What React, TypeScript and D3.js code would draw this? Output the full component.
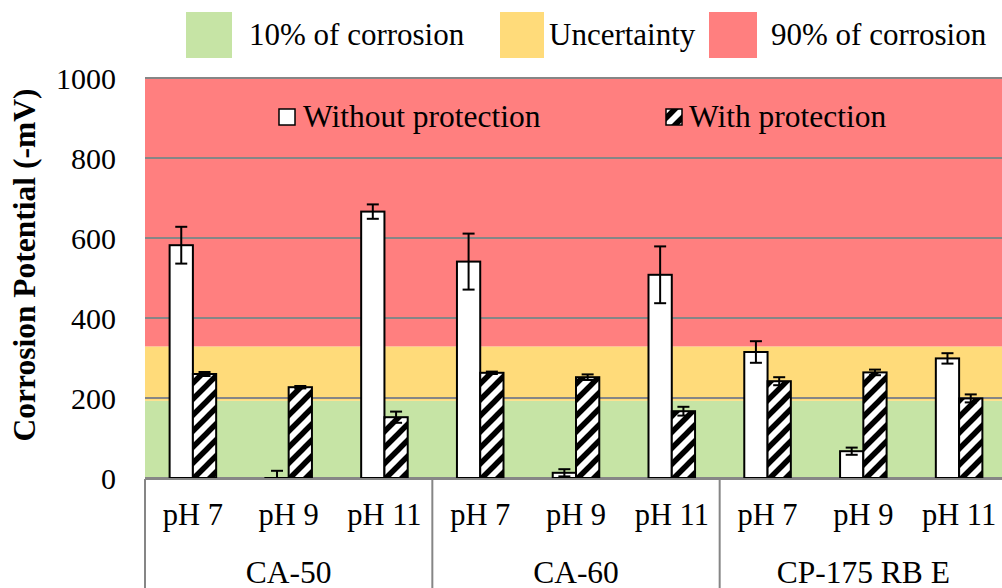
import React from "react";
import * as d3 from "d3";

const groups = ["CA-50", "CA-60", "CP-175 RB E"];
const phLabels = ["pH 7", "pH 9", "pH 11"];
const withoutValues = [582, -2, 666, 541, 13, 508, 315, 67, 299];
const withoutErrors = [46, 20, 18, 70, 9, 71, 27, 9, 13];
const withValues = [260, 227, 152, 263, 252, 167, 242, 264, 199];
const withErrors = [5, 3, 14, 3, 7, 11, 10, 7, 10];
const zoneLabels = ["10% of corrosion", "Uncertainty", "90% of corrosion"];
const zoneLower = [0, 193, 329];
const zoneUpper = [193, 329, 1000];
const zoneColors = ["#C6E4A5", "#FFDB7A", "#FF7F7F"];
const yTicks = [0, 200, 400, 600, 800, 1000];
const seriesNames = ["Without protection", "With protection"];

const W = 1002;
const H = 588;
const FONT = "'Liberation Serif', 'Times New Roman', serif";

export default function App() {
  const left = 145;
  const right = 1007;
  const top = 78;
  const bottom = 478;
  const y = d3.scaleLinear().domain([0, 1000]).range([bottom, top]);
  const cats = groups.flatMap((g) => phLabels.map((p) => `${g}|${p}`));
  const x = d3.scaleBand().domain(cats).range([left, right]).padding(0);
  const gx = d3.scaleBand().domain(groups).range([left, right]).padding(0);
  const bw = x.bandwidth();
  const barW = bw * 0.243;
  const capW = 12;
  const gridColor = "#868686";

  const legendSwatches = [
    { x: 186, w: 46, tx: 249 },
    { x: 500, w: 44, tx: 549 },
    { x: 709, w: 48, tx: 771 },
  ];

  return (
    <svg
      width={W}
      height={H}
      style={{ position: "absolute", left: 0, top: 0, background: "#fff" }}
      fontFamily={FONT}
    >
      <defs>
        <pattern id="hatch" patternUnits="userSpaceOnUse" width={16} height={16}>
          <rect width={16} height={16} fill="#fff" />
          <path
            d="M-4,4 L4,-4 M0,16 L16,0 M12,20 L20,12"
            stroke="#000"
            strokeWidth={5.5}
          />
        </pattern>
        <clipPath id="plotClip">
          <rect x={left} y={top - 10} width={right - left} height={bottom - top + 11} />
        </clipPath>
      </defs>

      {/* top legend */}
      {zoneLabels.map((lab, i) => (
        <g key={lab}>
          <rect x={legendSwatches[i].x} y={12} width={legendSwatches[i].w} height={46} fill={zoneColors[i]} />
          <text x={legendSwatches[i].tx} y={45} fontSize={31} fill="#000">
            {lab}
          </text>
        </g>
      ))}

      {/* zones */}
      {zoneLabels.map((lab, i) => (
        <rect
          key={"z" + lab}
          x={left}
          y={y(zoneUpper[i])}
          width={right - left}
          height={y(zoneLower[i]) - y(zoneUpper[i])}
          fill={zoneColors[i]}
        />
      ))}

      {/* gridlines */}
      {yTicks.map((t) => (
        <line key={"g" + t} x1={left} x2={right} y1={y(t)} y2={y(t)} stroke={gridColor} strokeWidth={2} />
      ))}

      {/* y tick labels */}
      {yTicks.map((t) => (
        <text key={"t" + t} x={116} y={y(t) + 10.5} fontSize={30} textAnchor="end" fill="#000">
          {t}
        </text>
      ))}

      {/* y axis title */}
      <text
        transform={`translate(35,${(top + bottom) / 2 - 13}) rotate(-90)`}
        fontSize={31.5}
        fontWeight="bold"
        textAnchor="middle"
        fill="#000"
      >
        Corrosion Potential (-mV)
      </text>

      {/* bars */}
      <g clipPath="url(#plotClip)">
        {cats.map((c, i) => {
          const cx = (x(c) as number) + bw / 2;
          const v1 = withoutValues[i];
          const v2 = withValues[i];
          return (
            <g key={c}>
              <rect
                x={cx - barW}
                y={y(Math.max(v1, 0))}
                width={barW}
                height={Math.max(Math.abs(y(v1) - y(0)), 0.01)}
                fill="#fff"
                stroke="#000"
                strokeWidth={2}
              />
              <rect
                x={cx}
                y={y(Math.max(v2, 0))}
                width={barW}
                height={Math.abs(y(v2) - y(0))}
                fill="url(#hatch)"
                stroke="#000"
                strokeWidth={2}
              />
            </g>
          );
        })}
        {cats.map((c, i) => {
          const cx = (x(c) as number) + bw / 2;
          const items = [
            { xc: cx - barW / 2, v: withoutValues[i], e: withoutErrors[i] },
            { xc: cx + barW / 2, v: withValues[i], e: withErrors[i] },
          ];
          return (
            <g key={"e" + c} stroke="#000" strokeWidth={2}>
              {items.map((it, k) => (
                <g key={k}>
                  <line x1={it.xc} x2={it.xc} y1={y(it.v + it.e)} y2={y(it.v - it.e)} />
                  <line x1={it.xc - capW / 2} x2={it.xc + capW / 2} y1={y(it.v + it.e)} y2={y(it.v + it.e)} />
                  <line x1={it.xc - capW / 2} x2={it.xc + capW / 2} y1={y(it.v - it.e)} y2={y(it.v - it.e)} />
                </g>
              ))}
            </g>
          );
        })}
      </g>

      {/* inner legend */}
      <rect x={279} y={109} width={16} height={16} fill="#fff" stroke="#000" strokeWidth={1.5} />
      <text x={303} y={127} fontSize={31.5} fill="#000">
        {seriesNames[0]}
      </text>
      <rect x={666} y={109} width={16} height={16} fill="url(#hatch)" stroke="#000" strokeWidth={1.5} />
      <text x={689} y={127} fontSize={31.5} fill="#000">
        {seriesNames[1]}
      </text>

      {/* category axis */}
      <rect x={left} y={bottom + 1} width={right - left} height={H - bottom} fill="#fff" />
      <line x1={left} x2={right} y1={bottom + 1} y2={bottom + 1} stroke={gridColor} strokeWidth={2} />
      {[...groups.map((g) => gx(g) as number), right].map((gxv, i) => (
        <line key={"d" + i} x1={gxv} x2={gxv} y1={bottom + 1} y2={H} stroke={gridColor} strokeWidth={2} />
      ))}
      {cats.map((c, i) => (
        <text
          key={"l" + c}
          x={(x(c) as number) + bw / 2}
          y={525}
          fontSize={30.5}
          textAnchor="middle"
          fill="#000"
        >
          {phLabels[i % 3]}
        </text>
      ))}
      {groups.map((g) => (
        <text
          key={"gl" + g}
          x={(gx(g) as number) + gx.bandwidth() / 2}
          y={583}
          fontSize={31.5}
          textAnchor="middle"
          fill="#000"
        >
          {g}
        </text>
      ))}
    </svg>
  );
}
